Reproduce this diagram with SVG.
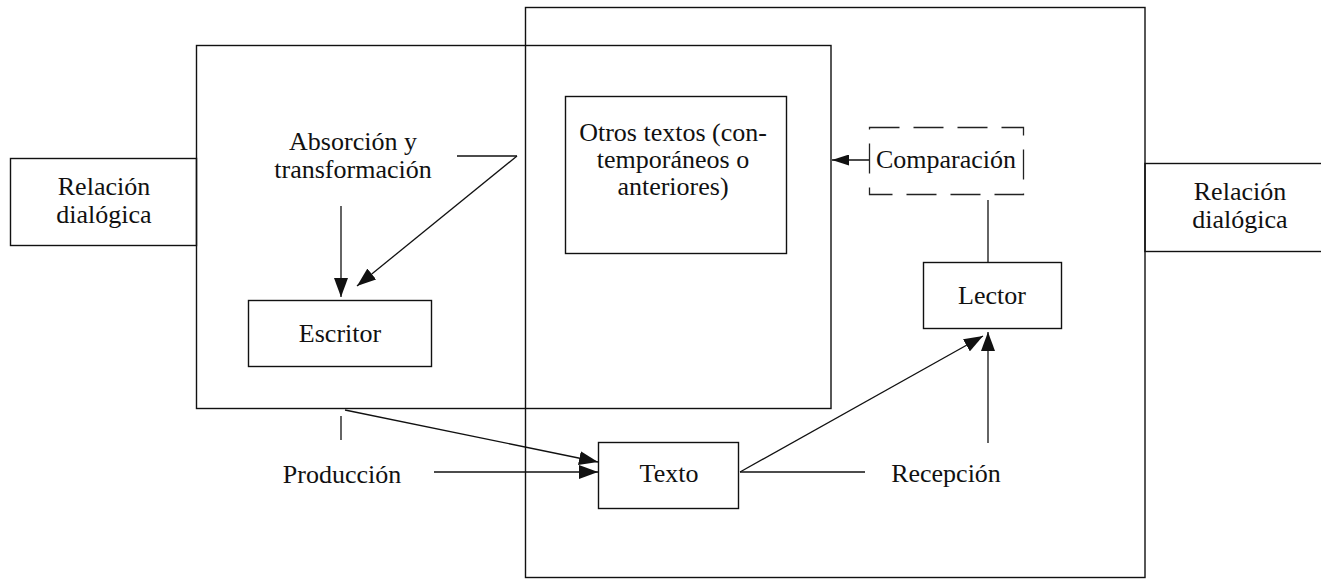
<svg xmlns="http://www.w3.org/2000/svg" width="1321" height="580" viewBox="0 0 1321 580">
  <style>
    .box { fill: none; stroke: #111; stroke-width: 1.4; }
    .dash { fill: none; stroke: #222; stroke-width: 1.3; stroke-dasharray: 30 14; }
    .line { fill: none; stroke: #111; stroke-width: 1.3; }
    .lbl { font-family: "Liberation Serif", "Times New Roman", serif; font-size: 26px; fill: #111; text-anchor: middle; }
  </style>
  <defs>
    <marker id="head" markerUnits="userSpaceOnUse" markerWidth="20" markerHeight="14" refX="19" refY="7" orient="auto">
      <path d="M0,0 L19,7 L0,14 z" fill="#111"/>
    </marker>
    <marker id="headSmall" markerUnits="userSpaceOnUse" markerWidth="17" markerHeight="11" refX="17" refY="5.5" orient="auto">
      <path d="M0,0 L17,5.5 L0,11 z" fill="#111"/>
    </marker>
  </defs>
  <rect width="1321" height="580" fill="#fff"/>

  <!-- context frames -->
  <g id="frame-production">
    <rect class="box" x="196.5" y="45.5" width="634.5" height="363"/>
  </g>
  <g id="frame-reception">
    <rect class="box" x="525.5" y="7.5" width="619.5" height="570"/>
  </g>

  <g id="node-dialogic-left">
    <rect class="box" x="10.5" y="158.5" width="186" height="87"/>
    <text class="lbl" x="104" y="195">Relación</text>
    <text class="lbl" x="104" y="223">dialógica</text>
  </g>

  <g id="node-dialogic-right">
    <rect class="box" x="1145" y="163.5" width="180" height="88"/>
    <text class="lbl" x="1240" y="200">Relación</text>
    <text class="lbl" x="1240" y="228">dialógica</text>
  </g>

  <g id="node-absorption">
    <text class="lbl" x="353" y="150">Absorción y</text>
    <text class="lbl" x="353" y="178">transformación</text>
  </g>

  <g id="node-other-texts">
    <rect class="box" x="565.5" y="96.5" width="221" height="157"/>
    <text class="lbl" x="673" y="141">Otros textos (con-</text>
    <text class="lbl" x="673" y="168">temporáneos o</text>
    <text class="lbl" x="673" y="195">anteriores)</text>
  </g>

  <g id="node-comparison">
    <rect class="dash" x="869.5" y="127.5" width="154" height="67"/>
    <text class="lbl" x="946" y="168">Comparación</text>
  </g>

  <g id="node-writer">
    <rect class="box" x="248.5" y="300.5" width="183" height="66"/>
    <text class="lbl" x="340" y="342">Escritor</text>
  </g>

  <g id="node-reader">
    <rect class="box" x="923.5" y="262.5" width="138" height="66"/>
    <text class="lbl" x="992" y="304">Lector</text>
  </g>

  <g id="node-text">
    <rect class="box" x="598.5" y="442.5" width="140" height="66"/>
    <text class="lbl" x="669" y="482">Texto</text>
  </g>

  <g id="node-production">
    <text class="lbl" x="342" y="483">Producción</text>
  </g>

  <g id="node-reception">
    <text class="lbl" x="946" y="482">Recepción</text>
  </g>

  <g id="connectors">
    <!-- absorption into the writer -->
    <line class="line" x1="341" y1="206" x2="341" y2="297" marker-end="url(#head)"/>
    <line class="line" x1="457" y1="156" x2="517" y2="156" stroke-width="2"/>
    <line class="line" x1="517" y1="156" x2="357" y2="286" marker-end="url(#head)"/>
    <!-- production towards the text -->
    <line class="line" x1="341" y1="416" x2="341" y2="440"/>
    <line class="line" x1="345" y1="410" x2="598" y2="462" marker-end="url(#head)"/>
    <line class="line" x1="434" y1="472" x2="598" y2="472" marker-end="url(#head)"/>
    <!-- reception towards the reader -->
    <line class="line" x1="740" y1="472" x2="865" y2="472"/>
    <line class="line" x1="740" y1="472" x2="983" y2="336" marker-end="url(#head)"/>
    <line class="line" x1="988" y1="443" x2="988" y2="332" marker-end="url(#head)"/>
    <!-- comparison with other texts -->
    <line class="line" x1="988" y1="200" x2="988" y2="262"/>
    <line class="line" x1="869" y1="160" x2="832" y2="160" marker-end="url(#headSmall)"/>
  </g>
</svg>
